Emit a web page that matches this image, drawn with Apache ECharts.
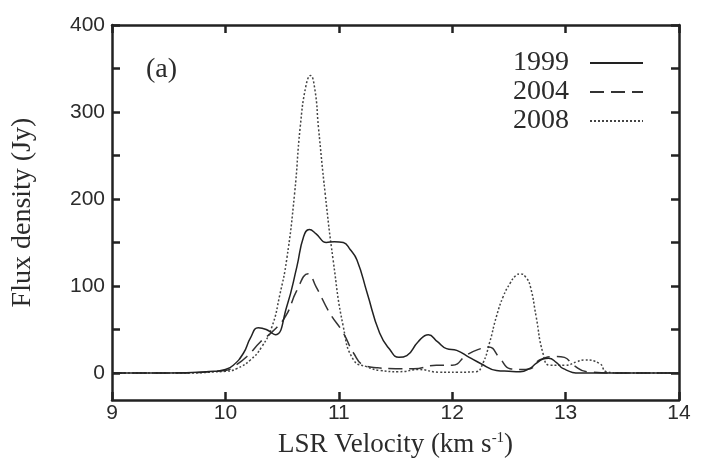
<!DOCTYPE html>
<html>
<head>
<meta charset="utf-8">
<script src="https://cdn.jsdelivr.net/npm/echarts@6/dist/echarts.min.js"></script>
<style>
html,body{margin:0;padding:0;background:#fff;}
#chart{width:713px;height:466px;}
</style>
</head>
<body>
<div id="chart"></div>
<script>
// ---- data ----
const seriesNames = ['1999', '2004', '2008'];

const vel1999 = [9.0, 9.5, 9.9, 10.0, 10.07, 10.16, 10.22, 10.29, 10.36, 10.44, 10.54, 10.63, 10.69, 10.74, 10.8, 10.89, 10.96, 11.04, 11.1, 11.16, 11.25, 11.36, 11.45, 11.53, 11.6, 11.7, 11.79, 11.87, 11.95, 12.04, 12.15, 12.25, 12.39, 12.5, 12.6, 12.68, 12.74, 12.8, 12.85, 12.92, 12.98, 13.13, 13.5, 14.0];
const flux1999 = [0, 0, 2, 4, 9, 23, 40, 52, 50, 44, 76, 122, 157, 165, 160, 150, 151, 150, 142, 130, 92, 46, 27, 18, 20, 36, 44, 36, 28, 26, 18, 11, 3, 2, 1.5, 5, 11, 16, 17, 12, 5, 0, 0, 0];

const vel2004 = [9.0, 9.5, 10.0, 10.08, 10.19, 10.31, 10.41, 10.53, 10.63, 10.73, 10.8, 10.92, 11.04, 11.13, 11.22, 11.35, 11.5, 11.66, 11.86, 12.0, 12.13, 12.25, 12.32, 12.42, 12.51, 12.6, 12.69, 12.77, 12.92, 12.99, 13.07, 13.19, 13.5, 14.0];
const flux2004 = [0, 0, 3, 8, 19, 36, 47, 65, 95, 114, 99, 69, 46, 23, 9, 6, 5, 5, 9, 9, 21, 28, 30, 17, 5, 4, 5, 15, 19, 18, 9, 1.5, 0, 0];

const vel2008 = [9.0, 9.5, 10.0, 10.1, 10.22, 10.32, 10.41, 10.48, 10.54, 10.61, 10.66, 10.71, 10.75, 10.79, 10.82, 10.88, 10.95, 11.04, 11.13, 11.25, 11.36, 11.53, 11.71, 11.88, 12.05, 12.21, 12.27, 12.33, 12.39, 12.45, 12.51, 12.56, 12.6, 12.65, 12.69, 12.74, 12.8, 12.86, 13.0, 13.1, 13.16, 13.3, 13.36, 13.5, 14.0];
const flux2008 = [0, 0, 2, 5, 15, 30, 53, 90, 130, 206, 283, 330, 342, 325, 283, 206, 130, 53, 15, 7, 3, 1.5, 4, 1, 1, 1.5, 11, 35, 65, 88, 103, 112, 114, 110, 99, 65, 23, 9, 9, 13, 15, 11, 1.5, 0, 0];

const yLabelValues = [0, 100, 200, 300, 400];
const yTickValues = [0, 50, 100, 150, 200, 250, 300, 350, 400];

// ---- chart ----
function pairs(xs, ys) { return xs.map((x, i) => [x, ys[i]]); }

const ink = '#222';
const textCol = '#2b2b2b';
const serif = '"Liberation Serif", "Times New Roman", serif';
const sans = '"Liberation Sans", Arial, sans-serif';

const axisLine = { show: true, onZero: false, lineStyle: { color: ink, width: 2.5 } };

const chart = echarts.init(document.getElementById('chart'), null, { renderer: 'canvas' });

const styles = [
  { type: 'solid', width: 1.5, color: '#222' },
  { type: [14, 7], width: 1.5, color: '#333' },
  { type: [2, 2], width: 1.5, color: '#444' }
];
const datasets = [pairs(vel1999, flux1999), pairs(vel2004, flux2004), pairs(vel2008, flux2008)];

chart.setOption({
  animation: false,
  backgroundColor: '#fff',
  title: {
    text: '(a)', left: 141, top: 51,
    textStyle: { fontFamily: serif, fontSize: 28, fontWeight: 'normal', color: textCol }
  },
  legend: {
    orient: 'vertical', right: 64, top: 44, align: 'right',
    itemWidth: 53, itemHeight: 14, itemGap: 1,
    itemStyle: { opacity: 0 },
    textStyle: { fontFamily: serif, fontSize: 28, color: textCol, padding: [0, 16, 0, 0] },
    data: seriesNames
  },
  grid: { left: 112, right: 34, top: 25, bottom: 66 },
  xAxis: [{
    type: 'value', min: 9, max: 14, interval: 1, position: 'bottom',
    name: 'LSR Velocity (km s{sup|-1}{n|)}', nameLocation: 'middle', nameGap: 31,
    nameTextStyle: {
      fontFamily: serif, fontSize: 27, color: textCol,
      rich: {
        sup: { fontFamily: serif, fontSize: 15, color: textCol, verticalAlign: 'top', padding: [0, 0, 12, 0] },
        n: { fontFamily: serif, fontSize: 27, color: textCol }
      }
    },
    axisLine: axisLine,
    axisTick: { inside: true, length: 8, lineStyle: { color: ink, width: 2.5 } },
    axisLabel: { fontFamily: sans, fontSize: 21, color: textCol, margin: 3 },
    splitLine: { show: false }
  }, {
    type: 'value', min: 9, max: 14, interval: 1, position: 'top',
    axisLine: axisLine,
    axisTick: { inside: true, length: 8, lineStyle: { color: ink, width: 2.5 } },
    axisLabel: { show: false },
    splitLine: { show: false }
  }],
  yAxis: [{
    type: 'value', min: -31, max: 400, position: 'left',
    name: 'Flux density (Jy)', nameLocation: 'middle', nameGap: 75,
    nameTextStyle: { fontFamily: serif, fontSize: 28, color: textCol },
    axisLine: axisLine,
    axisTick: { inside: true, length: 8, customValues: yTickValues, lineStyle: { color: ink, width: 2.5 } },
    axisLabel: { fontFamily: sans, fontSize: 21, color: textCol, margin: 7, customValues: yLabelValues },
    splitLine: { show: false }
  }, {
    type: 'value', min: -31, max: 400, position: 'right',
    axisLine: axisLine,
    axisTick: { inside: true, length: 8, customValues: yTickValues, lineStyle: { color: ink, width: 2.5 } },
    axisLabel: { show: false },
    splitLine: { show: false }
  }],
  series: seriesNames.map((n, i) => ({
    name: n, type: 'line', xAxisIndex: 0, yAxisIndex: 0,
    data: datasets[i], showSymbol: false, symbol: 'none',
    smooth: 0.5,
    lineStyle: styles[i], itemStyle: { color: styles[i].color },
    z: 3 - i
  }))
});
</script>
</body>
</html>
